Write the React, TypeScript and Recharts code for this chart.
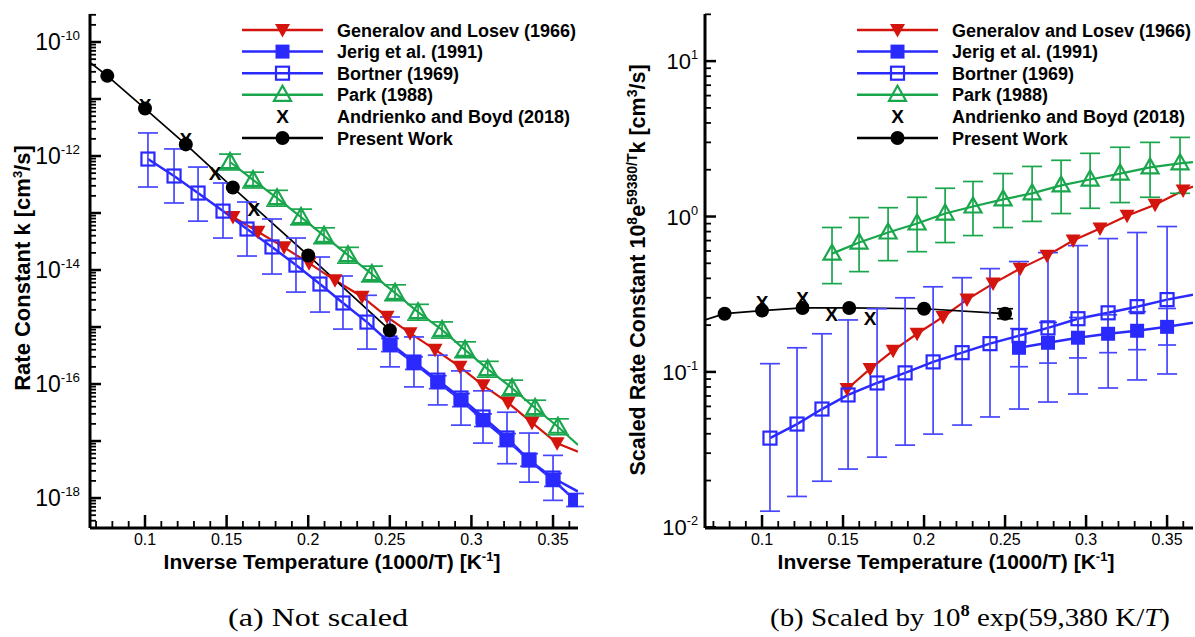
import type { ReactElement } from 'react';
import { ComposedChart, Line, Scatter, XAxis, YAxis, ErrorBar, Legend } from 'recharts';

const FONT = '"Liberation Sans", Arial, Helvetica, sans-serif';
const SERIF = '"Liberation Serif", "Times New Roman", serif';
const RED = '#d3150d';
const BLUE = '#2a2aff';
const BAR_BLUE = '#4646ff';
const GREEN = '#19a64c';

// axis ranges
const xDomainA = [0.0663, 0.3653];
const xDomainB = [0.0648, 0.366];
const yDomainA = [2.98e-19, 3.1e-10];
const yDomainB = [0.0099, 20.1];
const xMajorTicks = [0.1, 0.15, 0.2, 0.25, 0.3, 0.35];
const xTickLabels = ['0.1', '0.15', '0.2', '0.25', '0.3', '0.35'];

const legendNames = [
  'Generalov and Losev (1966)',
  'Jerig et al. (1991)',
  'Bortner (1969)',
  'Park (1988)',
  'Andrienko and Boyd (2018)',
  'Present Work',
];

// ---- (a) rate constant k [cm^3/s] ----
const presX = [0.0769, 0.1, 0.125, 0.1538, 0.2, 0.25];
const presAK = [2.55e-11, 6.8e-12, 1.6e-12, 2.8e-13, 1.8e-14, 8.8e-16];
const presAStart = 4.4e-11;

const andX = [0.1, 0.125, 0.1429, 0.1667];
const andAK = [7.8e-12, 1.95e-12, 5.0e-13, 1.18e-13];

const genAX = [0.1539, 0.1692, 0.1852, 0.2005, 0.2164, 0.233, 0.2483, 0.2624, 0.2777, 0.293, 0.3071, 0.3224, 0.3371, 0.3525];
const genAK = [8.5e-14, 4.7e-14, 2.5e-14, 1.32e-14, 6.6e-15, 3.4e-15, 1.51e-15, 7.8e-16, 4.0e-16, 2.0e-16, 9.5e-17, 4.7e-17, 2.1e-17, 9.1e-18];
const genAEnd = 6.5e-18;

const bortAX = [0.1018, 0.1178, 0.1325, 0.1478, 0.1625, 0.1778, 0.1925, 0.2072, 0.2213, 0.236, 0.2501, 0.2648, 0.2794, 0.2936, 0.3071, 0.3218, 0.3353, 0.35];
const bortAK = [8.85e-13, 4.46e-13, 2.24e-13, 1.08e-13, 5.24e-14, 2.54e-14, 1.22e-14, 5.68e-15, 2.64e-15, 1.22e-15, 5.24e-16, 2.43e-16, 1.17e-16, 5.68e-17, 2.64e-17, 1.13e-17, 4.65e-18, 2.24e-18];
const bortAHi = [2.54e-12, 1.33e-12, 6.4e-13, 3.36e-13, 1.56e-13, 7.85e-14, 3.64e-14, 1.69e-14, 7.85e-15, 3.6e-15, 1.5e-15, 6.7e-16, 3.2e-16, 1.7e-16, 7.6e-17, 3.2e-17, 1.38e-17, 5.6e-18];
const bortALo = [2.86e-13, 1.5e-13, 7.2e-14, 3.64e-14, 1.76e-14, 8.5e-15, 4.1e-15, 1.83e-15, 9.2e-16, 4.1e-16, 2.0e-16, 8.9e-17, 4.3e-17, 1.9e-17, 9.2e-18, 4.0e-18, 1.9e-18, 9.1e-19];
const bortAEnd = 1.3e-18;

const jerAX = [0.2501, 0.2648, 0.2794, 0.2936, 0.3071, 0.3218, 0.3353, 0.35, 0.3635];
const jerAK = [4.83e-16, 2.33e-16, 1.08e-16, 5.24e-17, 2.33e-17, 1.04e-17, 4.65e-18, 2.07e-18, 9.2e-19];
const jerAHi = [6.3e-16, 3.0e-16, 1.4e-16, 6.8e-17, 3.0e-17, 1.35e-17, 6.0e-18, 2.7e-18, 1.2e-18];
const jerALo = [3.7e-16, 1.8e-16, 8.3e-17, 4.0e-17, 1.8e-17, 8.0e-18, 3.6e-18, 1.6e-18, 7.1e-19];
const jerAEnd = 8.1e-19;

const parkAX = [0.1521, 0.1662, 0.1809, 0.1956, 0.2097, 0.2244, 0.239, 0.2532, 0.2673, 0.282, 0.2961, 0.31, 0.3249, 0.339, 0.353];
const parkAK = [7.85e-13, 3.8e-13, 1.82e-13, 8.5e-14, 3.98e-14, 1.82e-14, 8.5e-15, 3.98e-15, 1.82e-15, 8.9e-16, 3.98e-16, 1.82e-16, 8.5e-17, 3.8e-17, 1.78e-17];
const parkAHi = [1.08e-12, 5.2e-13, 2.5e-13, 1.17e-13, 5.5e-14, 2.5e-14, 1.17e-14, 5.5e-15, 2.5e-15, 1.23e-15, 5.5e-16, 2.5e-16, 1.17e-16, 5.2e-17, 2.45e-17];
const parkALo = [5.7e-13, 2.75e-13, 1.32e-13, 6.2e-14, 2.9e-14, 1.32e-14, 6.2e-15, 2.9e-15, 1.32e-15, 6.4e-16, 2.9e-16, 1.32e-16, 6.2e-17, 2.75e-17, 1.29e-17];
const parkAEnd = 8.5e-18;

// ---- (b) scaled rate constant ----
const presBS = [0.237, 0.248, 0.258, 0.258, 0.255, 0.237];
const presBHi = [null, null, null, null, null, 0.255];
const presBLo = [null, null, null, null, null, 0.22];
const presBStart = 0.216;

const andBS = [0.283, 0.3, 0.237, 0.223];

const genBX = [0.1525, 0.1667, 0.1809, 0.1957, 0.2117, 0.2265, 0.2426, 0.2593, 0.2759, 0.292, 0.3086, 0.3253, 0.3426, 0.3599];
const genBS = [0.0776, 0.1045, 0.137, 0.176, 0.226, 0.292, 0.37, 0.462, 0.56, 0.7, 0.837, 1.01, 1.19, 1.47];
const genBEnd = 1.56;

const bortBX = [0.1049, 0.1216, 0.137, 0.1531, 0.171, 0.1883, 0.2056, 0.2235, 0.2407, 0.2586, 0.2765, 0.295, 0.3136, 0.3315, 0.35];
const bortBS = [0.0375, 0.0462, 0.0577, 0.0711, 0.0849, 0.0986, 0.116, 0.133, 0.152, 0.171, 0.192, 0.22, 0.24, 0.263, 0.292];
const bortBHi = [0.113, 0.143, 0.176, 0.216, 0.255, 0.3, 0.353, 0.404, 0.462, 0.513, 0.586, 0.65, 0.721, 0.789, 0.862];
const bortBLo = [0.0127, 0.0158, 0.0198, 0.0237, 0.0283, 0.0338, 0.0398, 0.0455, 0.0513, 0.0577, 0.064, 0.0721, 0.0788, 0.0888, 0.097];
const bortBEnd = 0.314;

const jerBX = [0.2586, 0.2765, 0.295, 0.3136, 0.3315, 0.35];
const jerBS = [0.143, 0.154, 0.166, 0.176, 0.184, 0.195];
const jerBHi = [0.19, 0.208, 0.224, 0.233, 0.244, 0.256];
const jerBLo = [0.108, 0.114, 0.123, 0.133, 0.139, 0.149];
const jerBEnd = 0.207;

const parkBX = [0.1432, 0.1599, 0.1778, 0.1957, 0.213, 0.2302, 0.2488, 0.2667, 0.2846, 0.3025, 0.321, 0.3395, 0.358];
const parkBS = [0.577, 0.68, 0.789, 0.902, 1.045, 1.16, 1.29, 1.41, 1.585, 1.73, 1.89, 2.07, 2.2];
const parkBHi = [0.85, 0.985, 1.14, 1.33, 1.52, 1.68, 1.89, 2.1, 2.3, 2.55, 2.79, 3.0, 3.23];
const parkBLo = [0.37, 0.442, 0.52, 0.594, 0.68, 0.754, 0.849, 0.93, 1.045, 1.13, 1.23, 1.33, 1.41];
const parkBEnd = 2.24;

type Pt = { x: number; y: number; err?: [number, number] };

const pts = (xs: number[], ys: number[], lo?: (number | null)[], hi?: (number | null)[]): Pt[] =>
  xs.map((x, i) => {
    const p: Pt = { x, y: ys[i] };
    const l = lo ? lo[i] : null;
    const h = hi ? hi[i] : null;
    if (l != null && h != null) p.err = [ys[i] - l, h - ys[i]];
    return p;
  });

// minor ticks every 0.01, majors labelled
const xTicks: number[] = [];
for (let i = 7; i <= 36; i++) xTicks.push(i / 100);

const logTicks = (lo: number, hi: number) => {
  const out: number[] = [];
  for (let e = Math.floor(Math.log10(lo)); e <= Math.ceil(Math.log10(hi)); e++) {
    for (let m = 1; m <= 9; m++) {
      const v = m * Math.pow(10, e);
      if (v >= lo && v <= hi) out.push(v);
    }
  }
  return out;
};

// markers
const downTri = (cx: number, cy: number) => (
  <polygon points={`${cx - 7.5},${cy - 6} ${cx + 7.5},${cy - 6} ${cx},${cy + 7.5}`} fill={RED} />
);
const filledSq = (cx: number, cy: number) => <rect x={cx - 7} y={cy - 7} width={14} height={14} fill={BLUE} />;
const openSq = (cx: number, cy: number) => (
  <rect x={cx - 6.5} y={cy - 6.5} width={13} height={13} fill="none" stroke={BLUE} strokeWidth={2.2} />
);
const openTri = (cx: number, cy: number) => (
  <polygon points={`${cx - 8.5},${cy + 6} ${cx + 8.5},${cy + 6} ${cx},${cy - 9}`} fill="none" stroke={GREEN} strokeWidth={2.2} />
);
const cross = (cx: number, cy: number) => (
  <text x={cx} y={cy + 7} textAnchor="middle" fontFamily={FONT} fontWeight="bold" fontSize={19} fill="#000">
    X
  </text>
);
const dot = (cx: number, cy: number) => <circle cx={cx} cy={cy} r={7} fill="#000" />;

const legendMarks = [
  { color: RED, marker: downTri },
  { color: BLUE, marker: filledSq },
  { color: BLUE, marker: openSq },
  { color: GREEN, marker: openTri },
  { color: null, marker: cross },
  { color: '#000', marker: dot },
];

type Series = {
  name: string;
  color?: string;
  lineWidth?: number;
  line?: Pt[];
  pts: Pt[];
  marker: (cx: number, cy: number) => ReactElement;
  barColor?: string;
  barWidth?: number;
};

const seriesA: Series[] = [
  { name: 'gen', color: RED, lineWidth: 2.2, line: [...pts(genAX, genAK), { x: xDomainA[1], y: genAEnd }], pts: pts(genAX, genAK), marker: downTri },
  { name: 'jer', color: BLUE, lineWidth: 2.5, line: [...pts(jerAX, jerAK), { x: xDomainA[1], y: jerAEnd }], pts: pts(jerAX, jerAK, jerALo, jerAHi), marker: filledSq, barColor: BAR_BLUE, barWidth: 9 },
  { name: 'bort', color: BLUE, lineWidth: 2.5, line: [...pts(bortAX, bortAK), { x: xDomainA[1], y: bortAEnd }], pts: pts(bortAX, bortAK, bortALo, bortAHi), marker: openSq, barColor: BAR_BLUE, barWidth: 10 },
  { name: 'park', color: GREEN, lineWidth: 2.2, line: [...pts(parkAX, parkAK), { x: xDomainA[1], y: parkAEnd }], pts: pts(parkAX, parkAK, parkALo, parkAHi), marker: openTri, barColor: GREEN, barWidth: 11 },
  { name: 'and', pts: pts(andX, andAK), marker: cross },
  { name: 'pres', color: '#000', lineWidth: 1.7, line: [{ x: xDomainA[0], y: presAStart }, ...pts(presX, presAK)], pts: pts(presX, presAK), marker: dot },
];

const seriesB: Series[] = [
  { name: 'gen', color: RED, lineWidth: 2.2, line: [...pts(genBX, genBS), { x: xDomainB[1], y: genBEnd }], pts: pts(genBX, genBS), marker: downTri },
  { name: 'jer', color: BLUE, lineWidth: 2.5, line: [...pts(jerBX, jerBS), { x: xDomainB[1], y: jerBEnd }], pts: pts(jerBX, jerBS, jerBLo, jerBHi), marker: filledSq, barColor: BAR_BLUE, barWidth: 9 },
  { name: 'bort', color: BLUE, lineWidth: 2.5, line: [...pts(bortBX, bortBS), { x: xDomainB[1], y: bortBEnd }], pts: pts(bortBX, bortBS, bortBLo, bortBHi), marker: openSq, barColor: BAR_BLUE, barWidth: 10 },
  { name: 'park', color: GREEN, lineWidth: 2.2, line: [...pts(parkBX, parkBS), { x: xDomainB[1], y: parkBEnd }], pts: pts(parkBX, parkBS, parkBLo, parkBHi), marker: openTri, barColor: GREEN, barWidth: 10 },
  { name: 'and', pts: pts(andX, andBS), marker: cross },
  { name: 'pres', color: '#000', lineWidth: 1.7, line: [{ x: xDomainB[0], y: presBStart }, ...pts(presX, presBS)], pts: pts(presX, presBS, presBLo, presBHi), marker: dot, barColor: '#000', barWidth: 8 },
];

const XTick = (p: any) => {
  const { x, y, payload } = p;
  const idx = xMajorTicks.findIndex((m) => Math.abs(m - payload.value) < 1e-9);
  const major = idx >= 0;
  return (
    <g>
      <line x1={x} x2={x} y1={y} y2={y - (major ? 13 : 7)} stroke="#000" strokeWidth={major ? 2.5 : 1.8} />
      {major && (
        <text x={x} y={y + 17} textAnchor="middle" fontFamily={FONT} fontSize={16} fill="#000">
          {xTickLabels[idx]}
        </text>
      )}
    </g>
  );
};

const makeYTick = (every: number, fs: number, gap: number) => (p: any) => {
  const { x, y, payload } = p;
  const e = Math.log10(payload.value);
  const r = Math.round(e);
  const major = Math.abs(e - r) < 1e-6;
  return (
    <g>
      <line x1={x} x2={x + (major ? 11 : 6)} y1={y} y2={y} stroke="#000" strokeWidth={major ? 2.5 : 1.8} />
      {major && r % every === 0 && (
        <text x={x - gap} y={y + 8} textAnchor="end" fontFamily={FONT} fontSize={fs} fill="#000">
          10
          <tspan dy={-10} fontSize={fs * 0.58}>
            {r}
          </tspan>
        </text>
      )}
    </g>
  );
};

const LegendBox = () => (
  <svg width={380} height={135} style={{ display: 'block', overflow: 'visible' }}>
    {legendNames.map((name, i) => {
      const y = 15 + i * 21.6;
      const m = legendMarks[i];
      return (
        <g key={name}>
          {m.color && <line x1={12} x2={93} y1={y} y2={y} stroke={m.color} strokeWidth={2.5} />}
          {m.marker(52.5, y)}
          <text x={107} y={y + 6.5} fontFamily={FONT} fontWeight="bold" fontSize={18} fill="#000">
            {name}
          </text>
        </g>
      );
    })}
  </svg>
);

type PanelProps = {
  width: number;
  marginLeft: number;
  marginRight: number;
  yWidth: number;
  xDomain: number[];
  yDomain: number[];
  labelEvery: number;
  labelSize: number;
  labelGap: number;
  series: Series[];
  xTitle: ReactElement;
  yTitle: ReactElement;
  legendLeft: number;
};

function Panel(p: PanelProps) {
  const yTicks = logTicks(p.yDomain[0], p.yDomain[1]);
  return (
    <ComposedChart width={p.width} height={600} margin={{ top: 14, right: p.marginRight, bottom: 32, left: p.marginLeft }}>
      <XAxis
        type="number"
        dataKey="x"
        domain={p.xDomain}
        allowDataOverflow
        ticks={xTicks}
        interval={0}
        tickSize={0}
        tickMargin={0}
        tickLine={false}
        axisLine={{ stroke: '#000', strokeWidth: 3 }}
        tick={XTick}
        height={40}
        label={() => p.xTitle}
      />
      <YAxis
        type="number"
        scale="log"
        domain={p.yDomain}
        allowDataOverflow
        ticks={yTicks}
        interval={0}
        tickSize={0}
        tickMargin={0}
        tickLine={false}
        axisLine={{ stroke: '#000', strokeWidth: 3 }}
        tick={makeYTick(p.labelEvery, p.labelSize, p.labelGap)}
        width={p.yWidth}
        label={() => p.yTitle}
      />
      {p.series
        .filter((s) => s.line)
        .map((s) => (
          <Line
            key={`${s.name}-line`}
            data={s.line}
            dataKey="y"
            type="linear"
            stroke={s.color}
            strokeWidth={s.lineWidth}
            dot={false}
            activeDot={false}
            isAnimationActive={false}
          />
        ))}
      {p.series.map((s) => (
        <Scatter
          key={`${s.name}-pts`}
          data={s.pts}
          dataKey="y"
          isAnimationActive={false}
          shape={(sp: any) => s.marker(sp.cx, sp.cy)}
        >
          {s.barColor && (
            <ErrorBar
              dataKey="err"
              direction="y"
              width={s.barWidth}
              stroke={s.barColor}
              strokeWidth={1.7}
              isAnimationActive={false}
            />
          )}
        </Scatter>
      ))}
      <Legend
        layout="horizontal"
        verticalAlign="middle"
        align="center"
        wrapperStyle={{ left: p.legendLeft, top: 15, width: 380, height: 135 }}
        content={() => <LegendBox />}
      />
    </ComposedChart>
  );
}

const titleFont = { fontFamily: FONT, fontWeight: 'bold' as const, fill: '#000' };

const xTitle = (cx: number) => (
  <text x={cx} y={568.5} textAnchor="middle" fontSize={21} {...titleFont}>
    Inverse Temperature (1000/T) [K
    <tspan dy={-8} fontSize={13}>
      -1
    </tspan>
    <tspan dy={8}>]</tspan>
  </text>
);

const yTitleA = (
  <text transform="translate(29.5,268) rotate(-90)" textAnchor="middle" fontSize={22} {...titleFont}>
    Rate Constant k [cm
    <tspan dy={-8} fontSize={13}>
      3
    </tspan>
    <tspan dy={8}>/s]</tspan>
  </text>
);

const yTitleB = (
  <text transform="translate(45,270) rotate(-90)" textAnchor="middle" fontSize={21.5} {...titleFont}>
    Scaled Rate Constant 10
    <tspan dy={-8} fontSize={14}>
      8
    </tspan>
    <tspan dy={8}>e</tspan>
    <tspan dy={-8} fontSize={14}>
      59380/T
    </tspan>
    <tspan dy={8}>k [cm</tspan>
    <tspan dy={-8} fontSize={14}>
      3
    </tspan>
    <tspan dy={8}>/s]</tspan>
  </text>
);

export default function App() {
  return (
    <div style={{ position: 'absolute', left: 0, top: 0, width: 1195, height: 637, background: '#fff', overflow: 'hidden' }}>
      <div style={{ position: 'absolute', left: 0, top: 0 }}>
        <Panel
          width={600}
          marginLeft={10}
          marginRight={22}
          yWidth={80}
          xDomain={xDomainA}
          yDomain={yDomainA}
          labelEvery={2}
          labelSize={23}
          labelGap={10}
          series={seriesA}
          xTitle={xTitle(332)}
          yTitle={yTitleA}
          legendLeft={230}
        />
      </div>
      <div style={{ position: 'absolute', left: 600, top: 0 }}>
        <Panel
          width={595}
          marginLeft={10}
          marginRight={2}
          yWidth={95}
          xDomain={xDomainB}
          yDomain={yDomainB}
          labelEvery={1}
          labelSize={22}
          labelGap={7}
          series={seriesB}
          xTitle={xTitle(346)}
          yTitle={yTitleB}
          legendLeft={245}
        />
      </div>
      <svg style={{ position: 'absolute', left: 0, top: 590 }} width={1195} height={47}>
        <text x={318} y={36} textAnchor="middle" fontFamily={SERIF} fontSize={25} textLength={180} lengthAdjust="spacingAndGlyphs" fill="#000">
          (a) Not scaled
        </text>
        <text x={970} y={36} textAnchor="middle" fontFamily={SERIF} fontSize={25} textLength={400} lengthAdjust="spacingAndGlyphs" fill="#000">
          (b) Scaled by 10
          <tspan dy={-10} fontSize={16} fontWeight="bold">
            8
          </tspan>
          <tspan dy={10}> exp(59,380 K/</tspan>
          <tspan fontStyle="italic">T</tspan>)
        </text>
      </svg>
    </div>
  );
}
